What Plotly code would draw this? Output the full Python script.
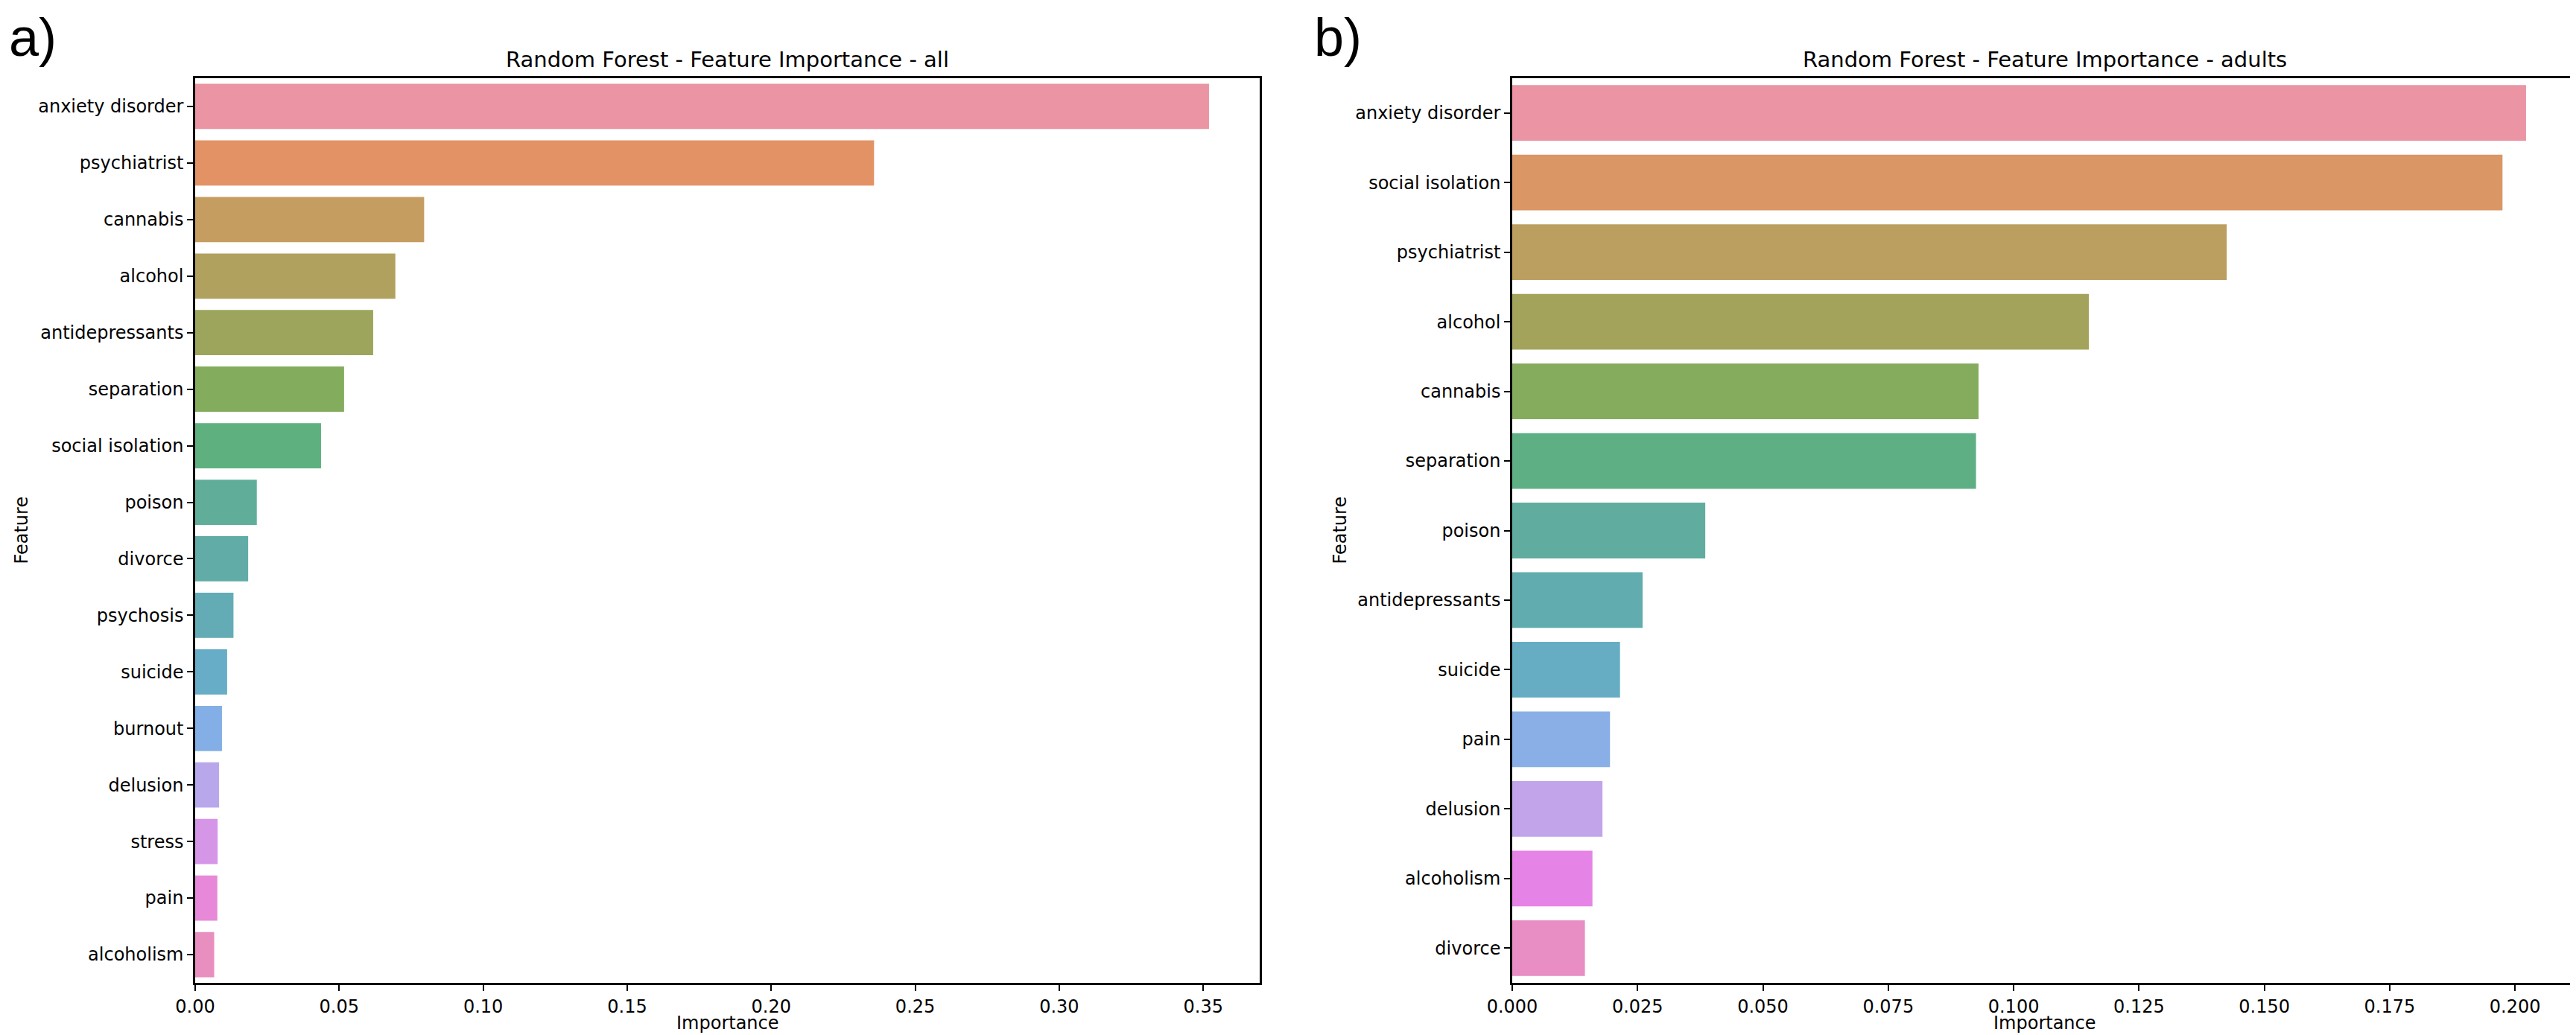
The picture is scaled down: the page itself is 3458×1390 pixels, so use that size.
import math
import colorsys
import plotly.graph_objects as go

# ---------------- data ----------------
features_all = ["anxiety disorder", "psychiatrist", "cannabis", "alcohol", "antidepressants",
                "separation", "social isolation", "poison", "divorce", "psychosis", "suicide",
                "burnout", "delusion", "stress", "pain", "alcoholism"]
importance_all = [0.352, 0.2357, 0.0795, 0.0695, 0.0618, 0.0517, 0.0437, 0.0214, 0.0184,
                  0.0133, 0.0111, 0.0093, 0.0083, 0.0078, 0.0077, 0.0066]

features_adults = ["anxiety disorder", "social isolation", "psychiatrist", "alcohol", "cannabis",
                   "separation", "poison", "antidepressants", "suicide", "pain", "delusion",
                   "alcoholism", "divorce"]
importance_adults = [0.2022, 0.1975, 0.1425, 0.115, 0.093, 0.0925, 0.0385, 0.026, 0.0215,
                     0.0195, 0.018, 0.016, 0.0145]

title_all = "Random Forest - Feature Importance - all"
title_adults = "Random Forest - Feature Importance - adults"
ticks_all = [0.0, 0.05, 0.10, 0.15, 0.20, 0.25, 0.30, 0.35]
ticks_adults = [0.0, 0.025, 0.05, 0.075, 0.10, 0.125, 0.15, 0.175, 0.20]

# ---------------- husl palette (seaborn style) ----------------
_m = [[3.2406, -1.5372, -0.4986], [-0.9689, 1.8758, 0.0415], [0.0557, -0.2040, 1.0570]]
_refU, _refV = 0.19784, 0.46834


def _max_chroma(L, H):
    hrad = math.radians(H)
    sinH, cosH = math.sin(hrad), math.cos(hrad)
    sub1 = ((L + 16) ** 3) / 1560896.0
    sub2 = sub1 if sub1 > 0.008856 else L / 903.3
    result = float("inf")
    for m1, m2, m3 in _m:
        top = (0.99915 * m1 + 1.05122 * m2 + 1.14460 * m3) * sub2
        rbottom = 0.86330 * m3 - 0.17266 * m2
        lbottom = 0.12949 * m3 - 0.38848 * m1
        bottom = (rbottom * sinH + lbottom * cosH) * sub2
        for t in (0.0, 1.0):
            C = L * (top - 1.05122 * t) / (bottom + 0.17266 * sinH * t)
            if 0.0 < C < result:
                result = C
    return result


def _from_linear(c):
    return 12.92 * c if c <= 0.0031308 else 1.055 * c ** (1 / 2.4) - 0.055


def husl_to_rgb(H, S, L):
    C = _max_chroma(L, H) / 100.0 * S
    hr = math.radians(H)
    U, V = math.cos(hr) * C, math.sin(hr) * C
    t = (L + 16) / 116.0
    varY = t ** 3 if t ** 3 > 0.008856 else (116 * t - 16) / 903.3
    varU = U / (13 * L) + _refU
    varV = V / (13 * L) + _refV
    Y = varY
    X = 0 - (9 * Y * varU) / ((varU - 4) * varV - varU * varV)
    Z = (9 * Y - 15 * varV * Y - varV * X) / (3 * varV)
    rgb = [_from_linear(r[0] * X + r[1] * Y + r[2] * Z) for r in _m]
    return [min(max(c, 0.0), 1.0) for c in rgb]


def husl_palette(n, h=0.01, s=0.9, l=0.65, desat=0.75, fade=0.85):
    cols = []
    for i in range(n):
        hue = ((i / n) + h) % 1 * 359
        r, g, b = husl_to_rgb(hue, s * 99, l * 99)
        hh, ll, ss = colorsys.rgb_to_hls(r, g, b)
        r, g, b = colorsys.hls_to_rgb(hh, ll, ss * desat)
        r, g, b = [c * fade + (1 - fade) for c in (r, g, b)]
        cols.append("rgb(%d,%d,%d)" % (round(r * 255), round(g * 255), round(b * 255)))
    return cols


# ---------------- layout geometry ----------------
W, H = 3458, 1390
FONT = "DejaVu Sans"
TICK = 24
left_px = (254, 1683)
right_px = (2022, 3451)
y_dom = [(H - 1312) / H, (H - 97) / H]

fig = go.Figure()
fig.add_trace(go.Bar(x=importance_all, y=features_all, orientation="h",
                     marker=dict(color=husl_palette(len(features_all)), line=dict(width=0)),
                     xaxis="x", yaxis="y", showlegend=False))
fig.add_trace(go.Bar(x=importance_adults, y=features_adults, orientation="h",
                     marker=dict(color=husl_palette(len(features_adults)), line=dict(width=0)),
                     xaxis="x2", yaxis="y2", showlegend=False))

axis_common = dict(showline=True, linecolor="black", linewidth=2.5, mirror=True, automargin=False,
                   showgrid=False, zeroline=False, ticks="outside", ticklen=8, tickwidth=2,
                   tickcolor="black", tickfont=dict(family=FONT, size=TICK, color="black"))

fig.update_layout(
    width=W, height=H,
    margin=dict(l=0, r=0, t=0, b=0),
    paper_bgcolor="white", plot_bgcolor="white",
    bargap=0.2,
    xaxis=dict(domain=[left_px[0] / W, left_px[1] / W], anchor="y",
               range=[0, max(importance_all) * 1.05], tickvals=ticks_all,
               ticktext=["%.2f" % t for t in ticks_all], **axis_common),
    yaxis=dict(domain=y_dom, anchor="x", type="category",
               range=[len(features_all) - 0.5, -0.5], **axis_common),
    xaxis2=dict(domain=[right_px[0] / W, right_px[1] / W], anchor="y2",
                range=[0, max(importance_adults) * 1.05], tickvals=ticks_adults,
                ticktext=["%.3f" % t for t in ticks_adults], **axis_common),
    yaxis2=dict(domain=y_dom, anchor="x2", type="category",
                range=[len(features_adults) - 0.5, -0.5], **axis_common),
)


def ann(text, x, y, size, family=FONT, xanchor="center", angle=0):
    return dict(text=text, x=x / W, y=(H - y) / H, xref="paper", yref="paper",
                showarrow=False, xanchor=xanchor, yanchor="middle", textangle=angle,
                font=dict(family=family, size=size, color="black"))


mid_y = (97 + 1312) / 2
annotations = [
    ann(title_all, (left_px[0] + left_px[1]) / 2, 72, 29),
    ann(title_adults, (right_px[0] + right_px[1]) / 2, 72, 29),
    ann("Importance", (left_px[0] + left_px[1]) / 2, 1366, TICK),
    ann("Importance", (right_px[0] + right_px[1]) / 2, 1366, TICK),
    ann("Feature", 20, mid_y, TICK, angle=-90),
    ann("Feature", 1790, mid_y, TICK, angle=-90),
    ann("a)", 2, 42, 72, family="Liberation Sans", xanchor="left"),
    ann("b)", 1754, 42, 72, family="Liberation Sans", xanchor="left"),
]
fig.update_layout(annotations=annotations)

fig.write_html("out.html")
